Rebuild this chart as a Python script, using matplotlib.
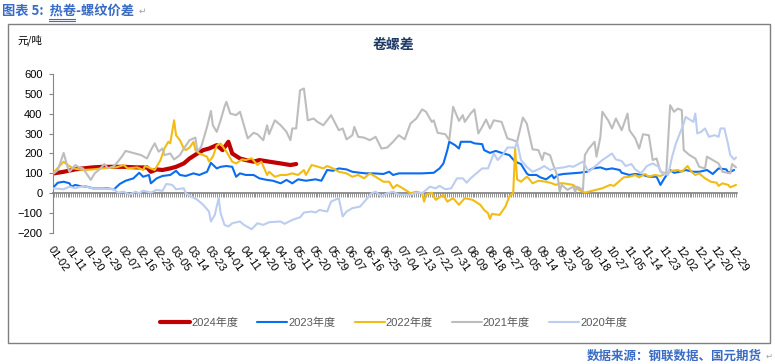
import matplotlib
matplotlib.use("Agg")
import matplotlib.pyplot as plt
from matplotlib.lines import Line2D
from matplotlib.patches import Rectangle

plt.rcParams["font.family"] = ["Liberation Sans", "Noto Sans CJK SC", "DejaVu Sans"]

# category axis: one slot per calendar date in the merged list, label every 9th
n_days = 353
tick_labels = ["01-02", "01-11", "01-20", "01-29", "02-07", "02-16", "02-25", "03-05",
               "03-14", "03-23", "04-01", "04-11", "04-20", "04-29", "05-11", "05-20",
               "05-29", "06-07", "06-16", "06-25", "07-04", "07-13", "07-22", "07-31",
               "08-09", "08-18", "08-27", "09-05", "09-14", "09-23", "10-09", "10-18",
               "10-27", "11-05", "11-14", "11-23", "12-02", "12-11", "12-20", "12-29"]
tick_pos = [i * 9 for i in range(len(tick_labels))]

# values (category index, yuan/ton)
x_2024 = [0, 5, 11, 15, 20, 25, 31, 36, 43, 48, 50, 53, 56, 60, 63, 67, 70, 74, 77, 80,
          84, 87, 90, 92, 96, 99, 103, 106, 111, 117, 122, 125]
y_2024 = [100, 108, 120, 125, 130, 133, 133, 133, 130, 130, 108, 120, 117, 125, 133, 150,
          175, 200, 217, 225, 242, 217, 259, 200, 175, 167, 159, 167, 159, 150, 142, 147]

x_2023 = [0, 2, 5, 8, 9, 11, 13, 17, 20, 27, 31, 34, 37, 41, 44, 46, 49, 50, 53, 56,
          60, 63, 65, 68, 72, 75, 79, 81, 84, 86, 89, 92, 94, 96, 99, 103, 106, 110, 113, 117,
          120, 123, 126, 130, 135, 138, 141, 144, 147, 151, 154, 158, 161, 165, 170, 173, 175, 178, 184, 190,
          196, 199, 201, 203, 204, 207, 209, 210, 215, 217, 221, 222, 225, 228, 232, 235, 238, 241, 244, 245,
          249, 251, 254, 257, 258, 260, 263, 271, 275, 278, 282, 285, 288, 292, 293, 297, 300, 304, 307, 311,
          313, 315, 318, 320, 323, 326, 330, 333, 337, 340, 343, 347, 348, 351]
y_2023 = [33, 53, 58, 50, 33, 42, 37, 33, 25, 25, 20, 47, 63, 75, 103, 83, 92, 50, 75, 87,
          92, 113, 92, 87, 100, 92, 108, 153, 125, 133, 137, 133, 83, 100, 92, 92, 75, 67, 63, 50,
          67, 50, 70, 63, 70, 63, 117, 113, 125, 120, 108, 103, 100, 100, 97, 108, 92, 100, 100, 100,
          103, 125, 150, 217, 259, 242, 225, 259, 259, 251, 247, 217, 203, 213, 200, 192, 159, 147, 100, 92,
          92, 80, 70, 92, 75, 92, 97, 103, 108, 125, 130, 120, 125, 117, 103, 92, 97, 92, 83, 83,
          42, 75, 117, 103, 108, 117, 108, 108, 117, 97, 125, 120, 103, 117]

x_2022 = [0, 1, 5, 7, 10, 15, 20, 25, 32, 36, 38, 43, 46, 47, 50, 52, 55, 57, 59, 60,
          62, 63, 65, 67, 68, 70, 72, 73, 75, 79, 80, 82, 84, 86, 89, 92, 94, 97, 99, 102,
          105, 107, 110, 111, 114, 117, 120, 123, 126, 129, 130, 133, 135, 139, 141, 144, 147, 151, 154, 157,
          160, 163, 166, 170, 173, 175, 177, 180, 184, 187, 190, 191, 192, 195, 197, 201, 203, 206, 209, 212,
          216, 220, 222, 224, 225, 226, 230, 233, 235, 237, 238, 239, 241, 244, 245, 247, 250, 254, 257, 259,
          261, 263, 268, 271, 274, 278, 283, 287, 289, 294, 297, 300, 302, 305, 307, 310, 313, 316, 319, 322,
          324, 327, 329, 331, 333, 336, 339, 342, 343, 345, 348, 349, 352]
y_2022 = [105, 117, 159, 142, 125, 117, 120, 125, 130, 142, 125, 130, 117, 137, 125, 117, 167, 225, 259, 251,
          367, 292, 267, 225, 217, 230, 259, 217, 200, 184, 159, 184, 240, 250, 209, 159, 150, 170, 167, 176,
          142, 159, 92, 108, 83, 92, 92, 100, 92, 117, 92, 142, 137, 125, 137, 125, 108, 100, 83, 92,
          75, 100, 83, 58, 58, 25, 42, 25, 0, 8, 0, -42, -8, 3, -33, -8, -42, -25, -58, -25,
          -33, -58, -84, -100, -129, -104, -109, -67, -17, 0, 225, 70, 58, 83, 75, 50, 63, 58, 50, 42,
          50, 50, 42, 17, 3, 13, 25, 42, 37, 80, 83, 92, 80, 97, 83, 92, 87, 100, 113, 117,
          108, 137, 108, 92, 100, 75, 58, 53, 37, 50, 42, 30, 42]

x_2021 = [0, 2, 5, 7, 8, 11, 13, 15, 19, 21, 24, 26, 28, 31, 33, 35, 37, 42, 45, 48,
          50, 52, 54, 56, 57, 60, 62, 65, 67, 70, 73, 74, 76, 79, 81, 82, 84, 86, 88, 89,
          91, 94, 96, 97, 100, 103, 105, 108, 110, 111, 114, 117, 120, 122, 123, 125, 127, 129, 131, 134,
          136, 139, 141, 143, 147, 149, 151, 154, 155, 157, 160, 163, 166, 169, 172, 175, 178, 181, 184, 187,
          190, 192, 195, 196, 198, 202, 204, 206, 209, 211, 212, 215, 217, 219, 221, 223, 225, 227, 231, 234,
          237, 239, 242, 244, 247, 250, 252, 253, 256, 258, 260, 261, 262, 265, 268, 269, 270, 273, 274, 276,
          279, 280, 282, 283, 286, 288, 290, 293, 296, 297, 300, 302, 304, 307, 309, 311, 313, 316, 318, 320,
          322, 324, 325, 328, 331, 333, 336, 337, 340, 343, 345, 349, 350, 352]
y_2021 = [100, 117, 203, 133, 108, 142, 130, 125, 67, 100, 125, 147, 125, 137, 159, 184, 213, 200, 192, 175,
          217, 251, 209, 225, 192, 200, 170, 192, 225, 267, 280, 209, 234, 334, 414, 342, 309, 367, 435, 460,
          401, 393, 410, 376, 276, 304, 297, 267, 342, 297, 367, 342, 309, 267, 326, 326, 518, 527, 367, 376,
          359, 342, 367, 393, 317, 326, 271, 292, 334, 284, 280, 267, 284, 225, 230, 259, 292, 271, 351, 376,
          422, 410, 359, 367, 304, 297, 267, 435, 364, 393, 359, 401, 422, 301, 334, 371, 326, 367, 359, 276,
          267, 259, 381, 351, 221, 217, 167, 204, 192, 133, 83, 8, 42, 17, 33, 8, 33, 17, 192, 225,
          259, 184, 284, 410, 367, 326, 376, 317, 401, 317, 276, 225, 297, 292, 167, 175, 108, 100, 443, 410,
          426, 418, 217, 192, 175, 133, 125, 184, 167, 150, 108, 100, 147, 130]

x_2020 = [0, 5, 8, 11, 15, 20, 25, 31, 33, 36, 39, 42, 44, 46, 50, 53, 56, 58, 61, 63,
          67, 68, 71, 74, 77, 80, 81, 83, 85, 86, 88, 90, 92, 96, 98, 102, 105, 108, 111, 117,
          119, 123, 127, 129, 133, 135, 137, 141, 143, 147, 149, 151, 154, 158, 161, 164, 166, 169, 172, 175,
          178, 184, 187, 190, 194, 197, 199, 202, 205, 208, 211, 213, 215, 218, 221, 224, 227, 229, 232, 234,
          238, 239, 241, 244, 247, 251, 253, 256, 259, 263, 266, 268, 273, 276, 278, 283, 288, 290, 293, 295,
          298, 300, 303, 306, 309, 312, 314, 317, 319, 321, 325, 326, 330, 331, 332, 334, 336, 338, 341, 343,
          344, 346, 348, 349, 351, 352]
y_2020 = [25, 20, 33, 25, 37, 25, 25, 20, 3, 8, -8, 8, 0, 13, 3, 17, 12, 47, 42, 20,
          25, 0, -17, -33, -58, -92, -142, -109, -25, -100, -159, -167, -151, -142, -159, -181, -151, -159, -146, -142,
          -154, -134, -121, -97, -92, -97, -84, -92, -42, -25, -117, -92, -75, -67, -33, 0, 8, -17, 0, 8,
          -8, -8, 3, 0, 33, 25, 37, 20, 25, 75, 75, 53, 75, 100, 125, 125, 200, 167, 200, 230,
          230, 259, 167, 133, 108, 125, 137, 117, 125, 130, 137, 133, 159, 108, 125, 167, 200, 170, 162, 137,
          147, 120, 100, 137, 150, 133, 100, 92, 184, 251, 351, 384, 359, 401, 301, 309, 326, 284, 292, 284,
          326, 326, 242, 192, 170, 180]

series = [
    ("2024年度", x_2024, y_2024, "#C00000", 3.0),
    ("2023年度", x_2023, y_2023, "#0A6CF0", 1.5),
    ("2022年度", x_2022, y_2022, "#F2BC14", 1.5),
    ("2021年度", x_2021, y_2021, "#BDBDBD", 1.5),
    ("2020年度", x_2020, y_2020, "#BCCDF0", 1.5),
]

fig, ax = plt.subplots(figsize=(7.75, 3.64), dpi=100)
fig.subplots_adjust(left=53 / 775, right=737 / 775, bottom=1 - 233 / 364, top=1 - 74 / 364)

for i, (name, xs, ys, color, lw) in enumerate(series):
    ax.plot(xs, ys, color=color, lw=lw, label=name, zorder=2 + i, solid_capstyle="round")

ax.set_xlim(-0.5, n_days - 0.5)
ax.set_ylim(-200, 600)
ax.set_yticks(range(-200, 601, 100))

for side in ["top", "right"]:
    ax.spines[side].set_visible(False)
ax.spines["left"].set_color("#868686")
ax.spines["bottom"].set_position(("data", 0))
ax.spines["bottom"].set_color("#808080")
ax.spines["bottom"].set_linewidth(1.2)

ax.set_xticks(range(n_days))
ax.tick_params(axis="x", length=3, width=0.6, color="#808080", labelbottom=False)
ax.tick_params(axis="y", length=3, width=0.8, color="#868686", pad=4.5, labelsize=8, labelcolor="#000000")

# date labels sit at the bottom of the plot, not on the zero line
sec = ax.secondary_xaxis("bottom")
sec.spines["bottom"].set_visible(False)
sec.set_xticks(tick_pos, labels=tick_labels)
sec.tick_params(length=0, pad=8, labelsize=8)
for lab in sec.get_xticklabels():
    lab.set_rotation(-55)
    lab.set_ha("left")
    lab.set_va("top")
    lab.set_rotation_mode("anchor")

fig.legend(loc="center", bbox_to_anchor=(0.508, 1 - 323 / 364), ncol=5, frameon=False,
           fontsize=8, labelcolor="#595959", handlelength=2.7, handletextpad=0.1,
           columnspacing=1.7)

fig.text(393 / 775, 1 - 45 / 364, "卷螺差", ha="center", va="center", fontsize=10,
         fontweight="bold", color="#1F3864", family=["Noto Sans CJK SC"])
fig.text(17 / 775, 1 - 40 / 364, "元/吨", ha="left", va="center", fontsize=7.5,
         color="#000000", family=["Noto Sans CJK SC"])

fig.text(2 / 775, 1 - 11 / 364, "图表 5:  热卷-螺纹价差", ha="left", va="center", fontsize=9.5,
         fontweight="bold", color="#3A6BC5", family=["Noto Sans CJK SC", "DejaVu Sans"])
fig.text(139 / 775, 1 - 11 / 364, "↵", ha="left", va="center", fontsize=6.5,
         color="#A0A0A0", family=["DejaVu Sans"])
for yy in (18.5, 20.8):
    fig.add_artist(Line2D([49 / 775, 75 / 775], [1 - yy / 364, 1 - yy / 364],
                          transform=fig.transFigure, color="#3A6BC5", lw=0.8))

fig.text(587 / 775, 1 - 356 / 364, "数据来源：钢联数据、国元期货", ha="left", va="center",
         fontsize=9, fontweight="bold", color="#3A6BC5", family=["Noto Sans CJK SC"])
fig.text(766 / 775, 1 - 356 / 364, "↵", ha="left", va="center", fontsize=6,
         color="#A0A0A0", family=["DejaVu Sans"])

fig.add_artist(Rectangle((7.5 / 775, 1 - 342.5 / 364), 762.5 / 775, 319 / 364,
                         transform=fig.transFigure, fill=False, edgecolor="#7F7F7F", lw=1))

fig.savefig("out.png", dpi=100)
